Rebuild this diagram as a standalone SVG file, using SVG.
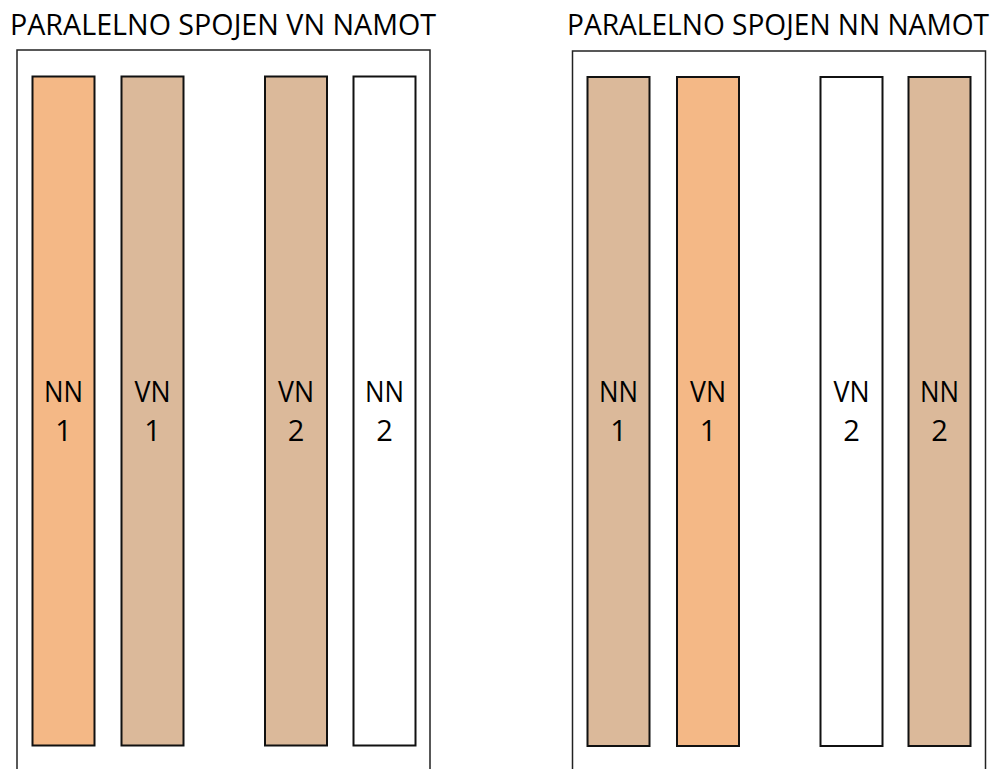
<svg xmlns="http://www.w3.org/2000/svg" width="997" height="769" viewBox="0 0 997 769">
<style>
.title{font-family:"Open Sans","Liberation Sans",sans-serif;font-size:29px;fill:#000}
.lbl{font-family:"Open Sans","Liberation Sans",sans-serif;font-size:29px;fill:#000;text-anchor:middle}
.frame{fill:#fff;stroke:#222;stroke-width:1.5}
.bar{stroke:#111;stroke-width:2}
.or{fill:#F4B886}
.tan{fill:#DBB99A}
.wh{fill:#fff}
</style>
<rect width="997" height="769" fill="#fff"/>
<g id="left-panel">
<text class="title" x="10" y="35" textLength="426" lengthAdjust="spacingAndGlyphs">PARALELNO SPOJEN VN NAMOT</text>
<path class="frame" d="M17,772 V50 H430 V772"/>
</g>
<g id="right-panel">
<text class="title" x="567" y="35" textLength="422" lengthAdjust="spacingAndGlyphs">PARALELNO SPOJEN NN NAMOT</text>
<path class="frame" d="M572.5,772 V51 H985.5 V772"/>
</g>
<g id="L-NN1"><rect class="bar or" x="32.5" y="76.5" width="62" height="669"/><text class="lbl" x="63.5" y="402" textLength="39" lengthAdjust="spacingAndGlyphs">NN</text><text class="lbl" x="63.5" y="441">1</text></g>
<g id="L-VN1"><rect class="bar tan" x="121.5" y="76.5" width="62" height="669"/><text class="lbl" x="152.5" y="402" textLength="36" lengthAdjust="spacingAndGlyphs">VN</text><text class="lbl" x="152.5" y="441">1</text></g>
<g id="L-VN2"><rect class="bar tan" x="265" y="76.5" width="62" height="669"/><text class="lbl" x="296" y="402" textLength="36" lengthAdjust="spacingAndGlyphs">VN</text><text class="lbl" x="296" y="441">2</text></g>
<g id="L-NN2"><rect class="bar wh" x="353.5" y="76.5" width="62" height="669"/><text class="lbl" x="384.5" y="402" textLength="39" lengthAdjust="spacingAndGlyphs">NN</text><text class="lbl" x="384.5" y="441">2</text></g>
<g id="R-NN1"><rect class="bar tan" x="587.5" y="77" width="62" height="669"/><text class="lbl" x="618.5" y="402" textLength="39" lengthAdjust="spacingAndGlyphs">NN</text><text class="lbl" x="618.5" y="441">1</text></g>
<g id="R-VN1"><rect class="bar or" x="677" y="77" width="62" height="669"/><text class="lbl" x="708" y="402" textLength="36" lengthAdjust="spacingAndGlyphs">VN</text><text class="lbl" x="708" y="441">1</text></g>
<g id="R-VN2"><rect class="bar wh" x="820.5" y="77" width="62" height="669"/><text class="lbl" x="851.5" y="402" textLength="36" lengthAdjust="spacingAndGlyphs">VN</text><text class="lbl" x="851.5" y="441">2</text></g>
<g id="R-NN2"><rect class="bar tan" x="908.5" y="77" width="62" height="669"/><text class="lbl" x="939.5" y="402" textLength="39" lengthAdjust="spacingAndGlyphs">NN</text><text class="lbl" x="939.5" y="441">2</text></g>
<g id="connectors"/>
</svg>
